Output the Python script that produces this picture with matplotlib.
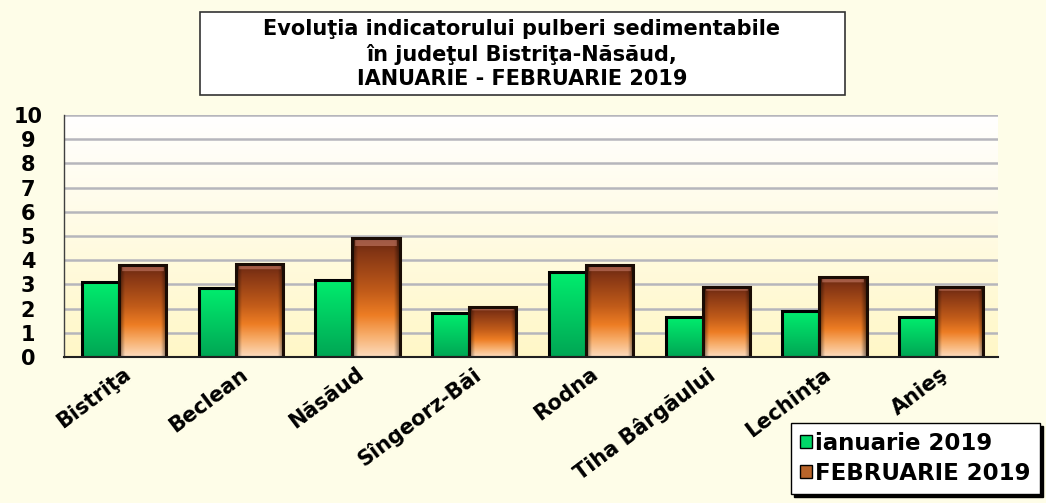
import numpy as np
import matplotlib
matplotlib.use("Agg")
import matplotlib.pyplot as plt
from matplotlib.patches import Rectangle

plt.rcParams['font.family'] = ['DejaVu Sans']

LOCATII = ["Bistriţa", "Beclean", "Năsăud", "Sîngeorz-Băi", "Rodna",
           "Tiha Bârgăului", "Lechinţa", "Anieş"]
IANUARIE = [3.1, 2.85, 3.2, 1.8, 3.5, 1.65, 1.9, 1.65]
FEBRUARIE = [3.8, 3.85, 4.9, 2.05, 3.8, 2.9, 3.3, 2.9]
Y_TICKS = list(range(0, 11))
SERII = ["ianuarie 2019", "FEBRUARIE 2019"]
TITLU = "Evoluţia indicatorului pulberi sedimentabile\nîn judeţul Bistriţa-Năsăud,\nIANUARIE - FEBRUARIE 2019"

BG = "#fefde8"


def green_img():
    t = np.linspace(0, 1, 80)[:, None]
    top = np.array([0.0, 0.93, 0.43])
    bot = np.array([0.0, 0.65, 0.33])
    img = top * (1 - t) + bot * t
    return img[:, None, :]


def brown_img():
    ny, nx = 120, 60
    t = np.linspace(0, 1, ny)
    stops = [0.0, 0.12, 0.45, 0.65, 0.82, 1.0]
    cols = np.array([[0.40, 0.15, 0.06], [0.52, 0.21, 0.08], [0.76, 0.36, 0.10],
                     [0.93, 0.49, 0.14], [0.97, 0.68, 0.42], [0.99, 0.86, 0.74]])
    col = np.stack([np.interp(t, stops, cols[:, k]) for k in range(3)], axis=1)
    u = np.linspace(0, 1, nx)
    shade = np.clip(np.minimum(u, 1 - u) / 0.12, 0, 1)
    fac = 0.5 + 0.5 * shade
    img = col[:, None, :] * fac[None, :, None]
    # light bevel at top
    tt = t[:, None]
    band = ((tt > 0.01) & (tt < 0.06)) * (shade[None, :] > 0.5)
    img = img * (1 - 0.5 * band[..., None]) + 0.5 * band[..., None] * np.array([0.85, 0.55, 0.48])
    return np.clip(img, 0, 1)


fig = plt.figure(figsize=(10.46, 5.03), dpi=100, facecolor=BG)
ax = fig.add_axes([64 / 1046, 1 - 357 / 503, (998 - 64) / 1046, (357 - 115) / 503])
ax.set_facecolor(BG)

x = np.arange(len(LOCATII))

# plot area background: white at top to pale yellow at bottom
bgrad = np.linspace(0, 1, 100)[:, None]
bg = np.array([1, 1, 1]) * (1 - bgrad) + np.array([1.0, 0.97, 0.78]) * bgrad
ax.imshow(bg[:, None, :], extent=[-0.5, len(LOCATII) - 0.5, 0, 10], origin="upper",
          aspect="auto", zorder=0)

b1 = ax.bar(x - 0.346, IANUARIE, width=0.317, align="edge", facecolor="none",
            edgecolor="black", lw=2.2, zorder=3)
b2 = ax.bar(x - 0.029, FEBRUARIE, width=0.403, align="edge", facecolor="none",
            edgecolor="#1a0c04", lw=2.2, zorder=3)

gi = green_img()
bi = brown_img()
for patch in b1:
    x0, y0 = patch.get_x(), patch.get_y()
    im = ax.imshow(gi, extent=[x0, x0 + patch.get_width(), y0, y0 + patch.get_height()],
                   aspect="auto", zorder=2, origin="upper")
    im.set_clip_path(patch)
for patch in b2:
    x0, y0 = patch.get_x(), patch.get_y()
    im = ax.imshow(bi, extent=[x0, x0 + patch.get_width(), y0, y0 + patch.get_height()],
                   aspect="auto", zorder=2, origin="upper")
    im.set_clip_path(patch)

ax.set_xlim(-0.5, len(LOCATII) - 0.5)
ax.set_ylim(0, 10)

ax.set_yticks(Y_TICKS)
ax.set_yticklabels([str(v) for v in Y_TICKS], fontsize=15, fontweight="bold", ha="center")
ax.yaxis.grid(True, color="#b6b6bc", lw=1.8, zorder=1)
ax.set_axisbelow(True)
ax.tick_params(axis="y", length=0, pad=26)

for s in ["top", "right"]:
    ax.spines[s].set_visible(False)
ax.spines["bottom"].set_color("#202020")
ax.spines["bottom"].set_linewidth(1.5)
ax.spines["bottom"].set_zorder(4)
ax.spines["left"].set_color("#404040")
ax.spines["left"].set_linewidth(1.0)

ax.set_xticks(x)
ax.set_xticklabels(LOCATII, rotation=37, ha="right", va="top", rotation_mode="anchor",
                   fontsize=15, fontweight="bold")
ax.tick_params(axis="x", length=0, pad=5)

# title box
fig.add_artist(Rectangle((200 / 1046, 1 - 95 / 503), 645 / 1046, 83 / 503,
                         transform=fig.transFigure, facecolor="white",
                         edgecolor="#333333", lw=1.2))
fig.text(522 / 1046, 1 - 54 / 503, TITLU, ha="center", va="center", fontsize=15,
         fontweight="bold", linespacing=1.25)

handles = [Rectangle((0, 0), 1, 1, facecolor="#00d868", edgecolor="black", lw=1),
           Rectangle((0, 0), 1, 1, facecolor="#b8642a", edgecolor="black", lw=1)]
leg = fig.legend(handles, SERII, loc="lower right", bbox_to_anchor=(1040 / 1046, 9 / 503),
                 bbox_transform=fig.transFigure, fancybox=False, framealpha=1,
                 edgecolor="black", shadow={"color": "black", "alpha": 1},
                 prop={"weight": "bold", "size": 16.5}, handlelength=0.5, handleheight=0.5,
                 handletextpad=0.15, labelspacing=0.3, borderpad=0.4, borderaxespad=0)
leg.get_frame().set_linewidth(1.0)

fig.savefig("out.png", dpi=100, facecolor=BG)
